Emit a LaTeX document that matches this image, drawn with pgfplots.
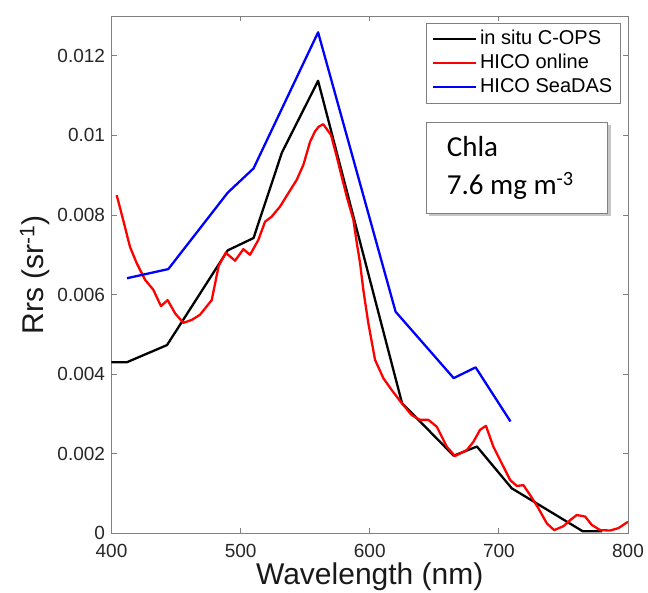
\documentclass[border=0pt]{standalone}
\usepackage{fontspec}
\setmainfont{Liberation Sans}
\newfontfamily\calibri{Carlito}
\usepackage{pgfplots}
\pgfplotsset{compat=1.18}
\usetikzlibrary{shadows}

\begin{document}
\begin{tikzpicture}
\path[use as bounding box] (-111.5pt,-58.7pt) rectangle (536.5pt,533.3pt);
\begin{axis}[
  at={(0,0)}, anchor=south west,
  scale only axis, width=516.5pt, height=517.3pt,
  xmin=400, xmax=800, ymin=0, ymax=0.013,
  xtick={400,500,600,700,800},
  ytick={0,0.002,0.004,0.006,0.008,0.01,0.012},
  yticklabels={0,0.002,0.004,0.006,0.008,0.01,0.012},
  scaled y ticks=false,
  /pgf/number format/assume math mode=true,
  tick label style={font=\fontsize{19}{22}\selectfont, color=black!85, inner sep=0pt},
  xticklabel style={yshift=-10.8pt},
  yticklabel style={xshift=-6.3pt},
  axis line style={black!50, line width=0.8pt},
  tick style={black!50, line width=0.8pt},
  major tick length=5pt,
  minor tick num=0,
  xlabel={Wavelength (nm)},
  ylabel={Rrs (sr\textsuperscript{-1})},
  label style={font=\fontsize{30}{36}\selectfont, color=black!90},
  xlabel style={at={(axis description cs:0.5,-0.0999)}, anchor=base},
  ylabel style={at={(axis description cs:-0.132,0.5)}, anchor=base},
  legend style={at={(rel axis cs:1,1)}, anchor=north east, xshift=-7.3pt, yshift=-7.3pt,
    draw=black!50, line width=0.8pt, font=\fontsize{20}{24}\selectfont,
    inner xsep=6pt, inner ysep=3.7pt, row sep=0pt,
    nodes={inner xsep=2pt, inner ysep=2.5pt, text height=15pt, text depth=4pt},
    column sep=1pt},
  legend cell align=left,
  legend image code/.code={\draw[#1, line width=2pt] (0pt,0pt) -- (43pt,0pt);},
  every axis plot/.append style={line width=2.3pt, line join=round},
]
\addplot[black, no markers] coordinates {
(400,0.00430) (412,0.00430) (443,0.00473) (490,0.00711) (510,0.00742)
(532,0.00957) (560,0.01137) (625,0.00327) (665,0.00195) (683,0.00218)
(710,0.00113) (765,0.00005) (780,0.00005)
};
\addlegendentry{in situ C-OPS}
\addplot[red, no markers] coordinates {
(404,0.00850) (409,0.00788) (414.3,0.00720) (419.5,0.00679) (426,0.00637)
(432.4,0.00612) (438.3,0.00571) (443.5,0.00586) (449.2,0.00553) (455.6,0.00529)
(462,0.00536) (468.5,0.00549) (477.6,0.00586) (483,0.00672) (488.5,0.00705)
(495.7,0.00685) (502.1,0.00714) (507.3,0.00700) (513.7,0.00737) (518.9,0.00783)
(524.1,0.00796) (530.5,0.00821) (537,0.00855) (543.4,0.00888) (548.6,0.00926)
(553.8,0.00984) (557.6,0.01010) (560.5,0.01022) (564,0.01028) (570,0.01001)
(574.4,0.00947) (578.3,0.00896) (582.2,0.00846) (587.3,0.00788) (590,0.00729)
(592.5,0.00679) (595,0.00612) (598.9,0.00528) (604.1,0.00436) (610.5,0.00390)
(617,0.00360) (624.8,0.00327) (632.5,0.00297) (639,0.00285) (645.4,0.00285)
(651.9,0.00268) (659.6,0.00218) (666,0.00194) (675.1,0.00209) (680.3,0.00230)
(685.4,0.00260) (690,0.00270) (695.7,0.00218) (702.2,0.00176) (708.7,0.00134)
(713.9,0.00119) (719,0.00121) (724.2,0.00096) (730.6,0.00063) (737.1,0.00025)
(742.8,0.00008) (750,0.00018) (755.2,0.00033) (760.3,0.00046) (766.8,0.00042)
(772,0.00021) (778.4,0.00008) (786.1,0.00007) (792.6,0.00013) (800,0.00029)
};
\addlegendentry{HICO online}
\addplot[blue, no markers] coordinates {
(412,0.00641) (444,0.00664) (490,0.00856) (510,0.00917) (560,0.01259)
(620,0.00557) (665,0.00390) (682,0.00417) (709,0.00281)
};
\addlegendentry{HICO SeaDAS}
\draw[black!50, line width=0.8pt, fill=white,
  drop shadow={shadow xshift=3pt, shadow yshift=-3pt, opacity=0.45}]
  (rel axis cs:0.609,0.7945) rectangle (rel axis cs:0.9608,0.6186);
\node[anchor=base west, inner sep=0pt, font=\calibri\fontsize{29}{34}\selectfont]
  at (rel axis cs:0.6489,0.728) {Chla};
\node[anchor=base west, inner sep=0pt, font=\calibri\fontsize{29}{34}\selectfont]
  at (rel axis cs:0.6489,0.654) {7.6 mg m\textsuperscript{-3}};
\end{axis}
\end{tikzpicture}
\end{document}
